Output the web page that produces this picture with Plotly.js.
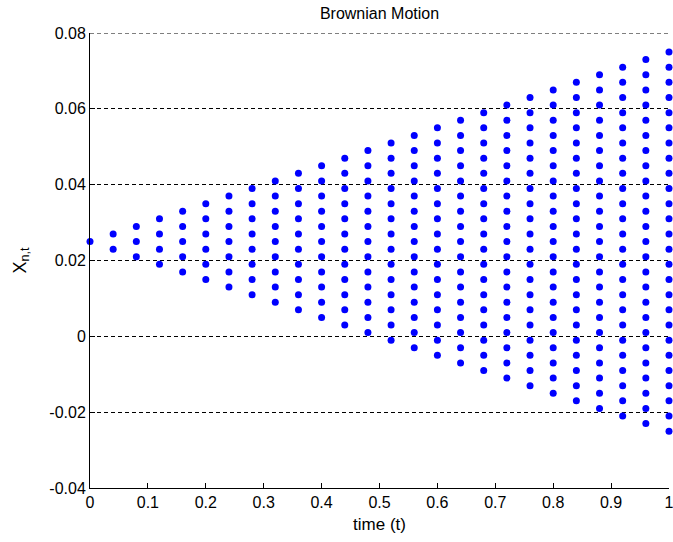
<!DOCTYPE html>
<html>
<head>
<meta charset="utf-8">
<script src="https://cdn.plot.ly/plotly-3.0.1.min.js"></script>
<style>html,body{margin:0;padding:0;background:#fff;}</style>
</head>
<body>
<div id="chart" style="width:673px;height:542px;"></div>
<script>
const chartTitle = "Brownian Motion";
const xLabel = "time (t)";
const yLabel = "X<sub>n,t</sub>";

const times = [0, 0.04, 0.08, 0.12, 0.16, 0.2, 0.24, 0.28, 0.32, 0.36, 0.4, 0.44, 0.48,
  0.52, 0.56, 0.6, 0.64, 0.68, 0.72, 0.76, 0.8, 0.84, 0.88, 0.92, 0.96, 1.0];

const levels = [
  [0.025],
  [0.027, 0.023],
  [0.029, 0.025, 0.021],
  [0.031, 0.027, 0.023, 0.019],
  [0.033, 0.029, 0.025, 0.021, 0.017],
  [0.035, 0.031, 0.027, 0.023, 0.019, 0.015],
  [0.037, 0.033, 0.029, 0.025, 0.021, 0.017, 0.013],
  [0.039, 0.035, 0.031, 0.027, 0.023, 0.019, 0.015, 0.011],
  [0.041, 0.037, 0.033, 0.029, 0.025, 0.021, 0.017, 0.013, 0.009],
  [0.043, 0.039, 0.035, 0.031, 0.027, 0.023, 0.019, 0.015, 0.011, 0.007],
  [0.045, 0.041, 0.037, 0.033, 0.029, 0.025, 0.021, 0.017, 0.013, 0.009, 0.005],
  [0.047, 0.043, 0.039, 0.035, 0.031, 0.027, 0.023, 0.019, 0.015, 0.011, 0.007, 0.003],
  [0.049, 0.045, 0.041, 0.037, 0.033, 0.029, 0.025, 0.021, 0.017, 0.013, 0.009, 0.005, 0.001],
  [0.051, 0.047, 0.043, 0.039, 0.035, 0.031, 0.027, 0.023, 0.019, 0.015, 0.011, 0.007, 0.003, -0.001],
  [0.053, 0.049, 0.045, 0.041, 0.037, 0.033, 0.029, 0.025, 0.021, 0.017, 0.013, 0.009, 0.005, 0.001, -0.003],
  [0.055, 0.051, 0.047, 0.043, 0.039, 0.035, 0.031, 0.027, 0.023, 0.019, 0.015, 0.011, 0.007, 0.003, -0.001, -0.005],
  [0.057, 0.053, 0.049, 0.045, 0.041, 0.037, 0.033, 0.029, 0.025, 0.021, 0.017, 0.013, 0.009, 0.005, 0.001, -0.003, -0.007],
  [0.059, 0.055, 0.051, 0.047, 0.043, 0.039, 0.035, 0.031, 0.027, 0.023, 0.019, 0.015, 0.011, 0.007, 0.003, -0.001, -0.005, -0.009],
  [0.061, 0.057, 0.053, 0.049, 0.045, 0.041, 0.037, 0.033, 0.029, 0.025, 0.021, 0.017, 0.013, 0.009, 0.005, 0.001, -0.003, -0.007, -0.011],
  [0.063, 0.059, 0.055, 0.051, 0.047, 0.043, 0.039, 0.035, 0.031, 0.027, 0.023, 0.019, 0.015, 0.011, 0.007, 0.003, -0.001, -0.005, -0.009, -0.013],
  [0.065, 0.061, 0.057, 0.053, 0.049, 0.045, 0.041, 0.037, 0.033, 0.029, 0.025, 0.021, 0.017, 0.013, 0.009, 0.005, 0.001, -0.003, -0.007, -0.011, -0.015],
  [0.067, 0.063, 0.059, 0.055, 0.051, 0.047, 0.043, 0.039, 0.035, 0.031, 0.027, 0.023, 0.019, 0.015, 0.011, 0.007, 0.003, -0.001, -0.005, -0.009, -0.013, -0.017],
  [0.069, 0.065, 0.061, 0.057, 0.053, 0.049, 0.045, 0.041, 0.037, 0.033, 0.029, 0.025, 0.021, 0.017, 0.013, 0.009, 0.005, 0.001, -0.003, -0.007, -0.011, -0.015, -0.019],
  [0.071, 0.067, 0.063, 0.059, 0.055, 0.051, 0.047, 0.043, 0.039, 0.035, 0.031, 0.027, 0.023, 0.019, 0.015, 0.011, 0.007, 0.003, -0.001, -0.005, -0.009, -0.013, -0.017, -0.021],
  [0.073, 0.069, 0.065, 0.061, 0.057, 0.053, 0.049, 0.045, 0.041, 0.037, 0.033, 0.029, 0.025, 0.021, 0.017, 0.013, 0.009, 0.005, 0.001, -0.003, -0.007, -0.011, -0.015, -0.019, -0.023],
  [0.075, 0.071, 0.067, 0.063, 0.059, 0.055, 0.051, 0.047, 0.043, 0.039, 0.035, 0.031, 0.027, 0.023, 0.019, 0.015, 0.011, 0.007, 0.003, -0.001, -0.005, -0.009, -0.013, -0.017, -0.021, -0.025]
];

const xTickVals = [0, 0.1, 0.2, 0.3, 0.4, 0.5, 0.6, 0.7, 0.8, 0.9, 1];
const xTickLabels = ["0", "0.1", "0.2", "0.3", "0.4", "0.5", "0.6", "0.7", "0.8", "0.9", "1"];
const yTickVals = [-0.04, -0.02, 0, 0.02, 0.04, 0.06, 0.08];
const yTickLabels = ["-0.04", "-0.02", "0", "0.02", "0.04", "0.06", "0.08"];

const xs = [], ys = [];
times.forEach((t, i) => {
  levels[i].forEach(v => { xs.push(t); ys.push(v); });
});

const font = "Liberation Sans, Arial, sans-serif";
const topGrid = yTickVals[yTickVals.length - 1];
const gridDash = "4px,3px";

Plotly.newPlot("chart", [{
  type: "scatter",
  mode: "markers",
  x: xs,
  y: ys,
  marker: {color: "#0000ff", size: 7},
  cliponaxis: false,
  hoverinfo: "x+y"
}], {
  width: 673,
  height: 542,
  margin: {l: 90, r: 4, t: 33, b: 54},
  paper_bgcolor: "#ffffff",
  plot_bgcolor: "#ffffff",
  showlegend: false,
  font: {family: font, size: 16, color: "#000000"},
  title: {
    text: chartTitle,
    font: {family: font, size: 16, color: "#000000"},
    x: 0.5, xref: "paper", xanchor: "center",
    y: 1 - 13 / 542, yref: "container", yanchor: "middle"
  },
  shapes: [{
    type: "line", xref: "paper", yref: "y",
    x0: 0, x1: 1, y0: topGrid, y1: topGrid,
    line: {color: "#000000", width: 1, dash: gridDash},
    layer: "below"
  }],
  xaxis: {
    range: [0, 1],
    tickmode: "array",
    tickvals: xTickVals,
    ticktext: xTickLabels,
    ticks: "inside",
    ticklen: 5,
    tickcolor: "#000000",
    showline: true,
    linecolor: "#000000",
    linewidth: 1,
    showgrid: false,
    zeroline: false,
    ticklabeloverflow: "allow",
    tickfont: {family: font, size: 16},
    title: {text: xLabel, font: {family: font, size: 17}, standoff: 7}
  },
  yaxis: {
    range: [-0.04, 0.08],
    tickmode: "array",
    tickvals: yTickVals,
    ticktext: yTickLabels,
    ticks: "inside",
    ticklen: 5,
    tickcolor: "#000000",
    showline: true,
    linecolor: "#000000",
    linewidth: 1,
    showgrid: true,
    gridcolor: "#000000",
    gridwidth: 1,
    griddash: gridDash,
    zeroline: false,
    ticklabeloverflow: "allow",
    tickfont: {family: font, size: 16},
    title: {text: yLabel, font: {family: font, size: 18}, standoff: 18}
  }
}, {displayModeBar: false});
</script>
</body>
</html>
